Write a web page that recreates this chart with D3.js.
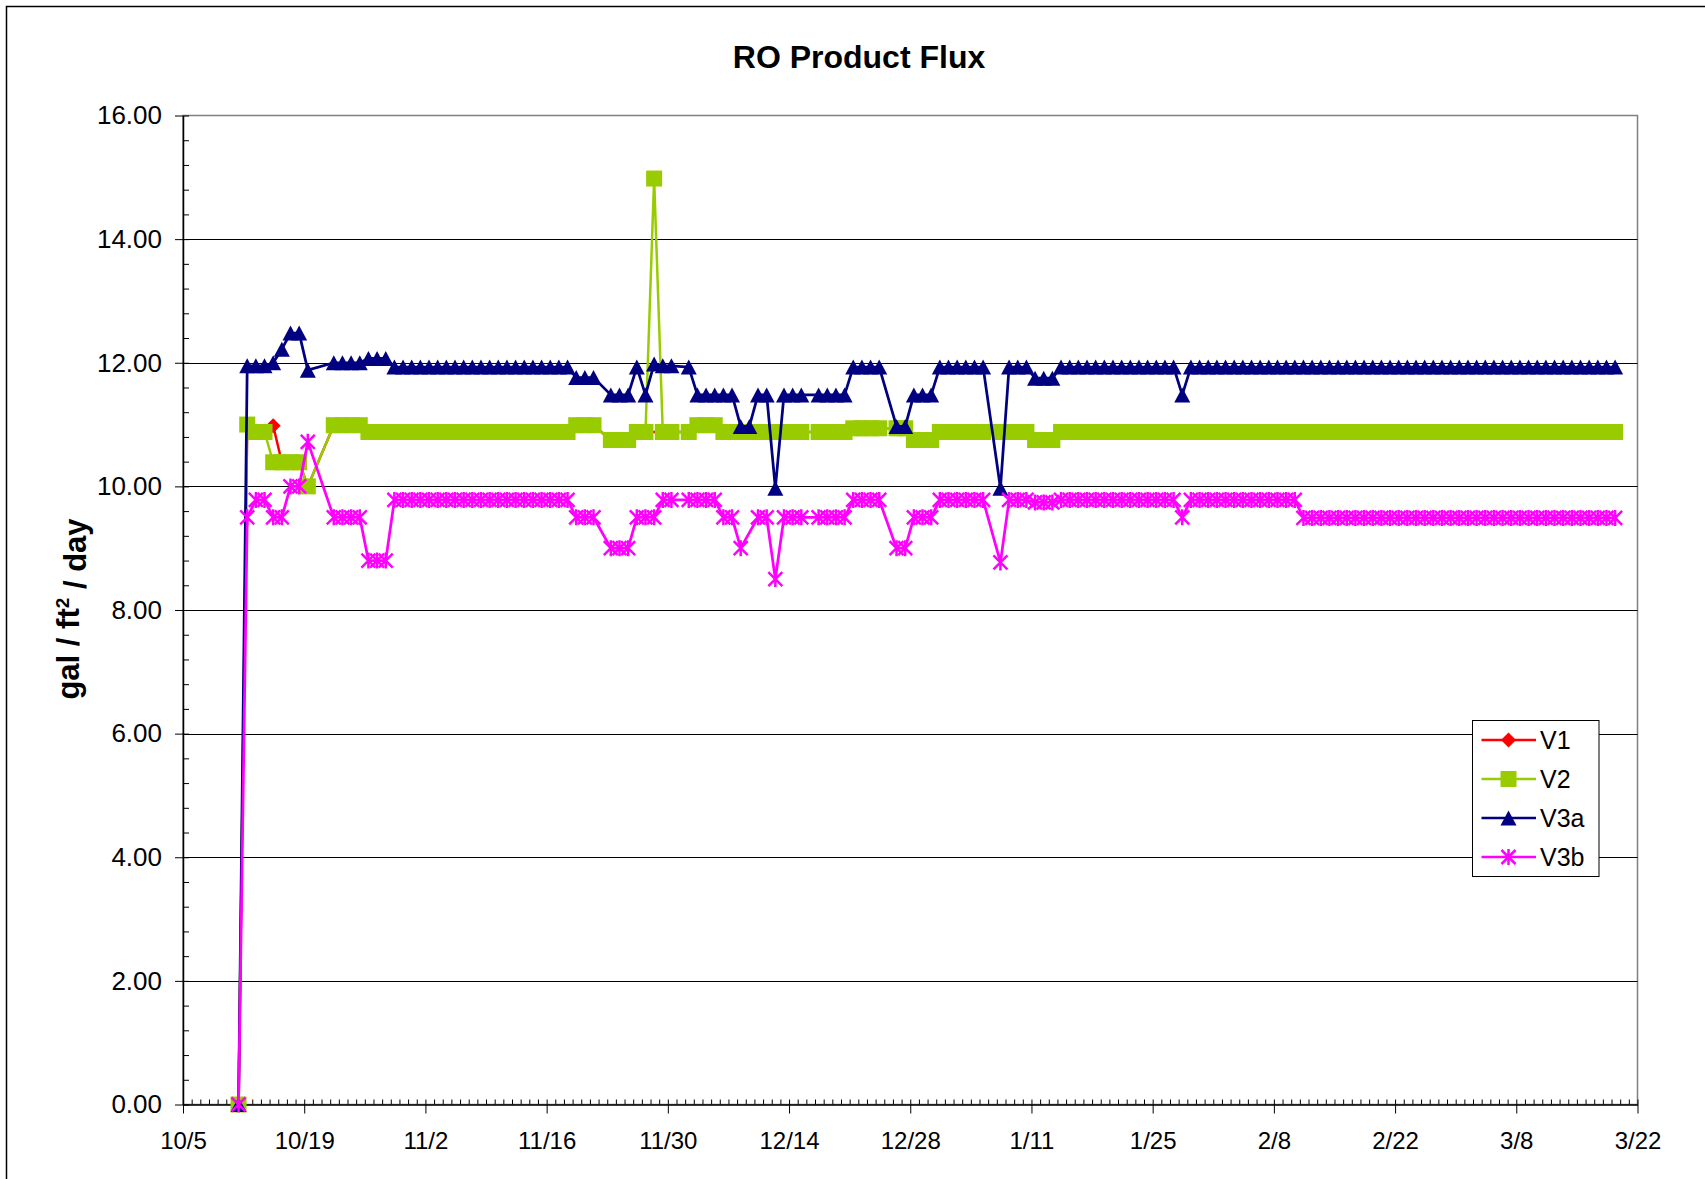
<!DOCTYPE html>
<html><head><meta charset="utf-8">
<script src="https://cdn.jsdelivr.net/npm/d3@7"></script>
<style>
body{margin:0;background:#fff}
svg{display:block}
text{font-family:"Liberation Sans",Arial,Helvetica,sans-serif;fill:#000}
</style>
</head><body>
<svg id="chart" width="1705" height="1179"></svg>
<script>
// ---------------- DATA ----------------
const chartTitle = "RO Product Flux";
const seriesNames = ["V1", "V2", "V3a", "V3b"];
const xTickLabels = ["10/5","10/19","11/2","11/16","11/30","12/14","12/28","1/11","1/25","2/8","2/22","3/8","3/22"];
const yTickValues = [0, 2, 4, 6, 8, 10, 12, 14, 16];
const readingHour = 10;

const dates = [
 "10/11","10/12","10/13","10/14","10/15","10/16","10/17","10/18","10/19","10/22",
 "10/23","10/24","10/25","10/26","10/27","10/28","10/29","10/30","10/31",
 "11/1","11/2","11/3","11/4","11/5","11/6","11/7","11/8","11/9","11/10",
 "11/11","11/12","11/13","11/14","11/15","11/16","11/17","11/18","11/19","11/20",
 "11/21","11/23","11/24","11/25","11/26","11/27","11/28","11/29","11/30",
 "12/2","12/3","12/4","12/5","12/6","12/7","12/8","12/9","12/10","12/11",
 "12/12","12/13","12/14","12/15","12/17","12/18","12/19","12/20","12/21","12/22",
 "12/23","12/24","12/26","12/27","12/28","12/29","12/30","12/31",
 "1/1","1/2","1/3","1/4","1/5","1/7","1/8","1/9","1/10","1/11",
 "1/12","1/13","1/14","1/15","1/16","1/17","1/18","1/19","1/20","1/21",
 "1/22","1/23","1/24","1/25","1/26","1/27","1/28","1/29","1/30","1/31",
 "2/1","2/2","2/3","2/4","2/5","2/6","2/7","2/8","2/9","2/10",
 "2/11","2/12","2/13","2/14","2/15","2/16","2/17","2/18","2/19","2/20",
 "2/21","2/22","2/23","2/24","2/25","2/26","2/27","2/28",
 "3/1","3/2","3/3","3/4","3/5","3/6","3/7","3/8","3/9","3/10",
 "3/11","3/12","3/13","3/14","3/15","3/16","3/17","3/18","3/19"
];

const v1 = [
 0,11.0,10.88,10.88,10.98,10.39,10.39,10.39,10.0,10.99,
 10.99,10.99,10.99,10.88,10.88,10.88,10.88,10.88,10.88,
 10.88,10.88,10.88,10.88,10.88,10.88,10.88,10.88,10.88,10.88,
 10.88,10.88,10.88,10.88,10.88,10.88,10.88,10.88,10.99,10.99,
 10.99,10.75,10.75,10.75,10.88,10.88,null,10.88,10.88,
 10.88,10.99,10.99,10.99,10.88,10.88,10.88,10.88,10.88,10.88,
 10.88,10.88,10.88,10.88,10.88,10.88,10.88,10.88,10.94,10.94,
 10.94,10.94,10.94,10.94,10.75,10.75,10.75,10.88,
 10.88,10.88,10.88,10.88,10.88,10.88,10.88,10.88,10.88,10.75,
 10.75,10.75,10.88,10.88,10.88,10.88,10.88,10.88,10.88,10.88,
 10.88,10.88,10.88,10.88,10.88,10.88,10.88,10.88,10.88,10.88,
 10.88,10.88,10.88,10.88,10.88,10.88,10.88,10.88,10.88,10.88,
 10.88,10.88,10.88,10.88,10.88,10.88,10.88,10.88,10.88,10.88,
 10.88,10.88,10.88,10.88,10.88,10.88,10.88,10.88,
 10.88,10.88,10.88,10.88,10.88,10.88,10.88,10.88,10.88,10.88,
 10.88,10.88,10.88,10.88,10.88,10.88,10.88,10.88,10.88
];

const v2 = [
 0,11.0,10.88,10.88,10.39,10.39,10.39,10.39,10.0,10.99,
 10.99,10.99,10.99,10.88,10.88,10.88,10.88,10.88,10.88,
 10.88,10.88,10.88,10.88,10.88,10.88,10.88,10.88,10.88,10.88,
 10.88,10.88,10.88,10.88,10.88,10.88,10.88,10.88,10.99,10.99,
 10.99,10.75,10.75,10.75,10.88,10.88,14.98,10.88,10.88,
 10.88,10.99,10.99,10.99,10.88,10.88,10.88,10.88,10.88,10.88,
 10.88,10.88,10.88,10.88,10.88,10.88,10.88,10.88,10.94,10.94,
 10.94,10.94,10.94,10.94,10.75,10.75,10.75,10.88,
 10.88,10.88,10.88,10.88,10.88,10.88,10.88,10.88,10.88,10.75,
 10.75,10.75,10.88,10.88,10.88,10.88,10.88,10.88,10.88,10.88,
 10.88,10.88,10.88,10.88,10.88,10.88,10.88,10.88,10.88,10.88,
 10.88,10.88,10.88,10.88,10.88,10.88,10.88,10.88,10.88,10.88,
 10.88,10.88,10.88,10.88,10.88,10.88,10.88,10.88,10.88,10.88,
 10.88,10.88,10.88,10.88,10.88,10.88,10.88,10.88,
 10.88,10.88,10.88,10.88,10.88,10.88,10.88,10.88,10.88,10.88,
 10.88,10.88,10.88,10.88,10.88,10.88,10.88,10.88,10.88
];

const v3a = [
 0,11.95,11.95,11.95,12.0,12.22,12.48,12.48,11.88,12.0,
 12.0,12.0,12.0,12.07,12.07,12.07,11.93,11.93,11.93,
 11.93,11.93,11.93,11.93,11.93,11.93,11.93,11.93,11.93,11.93,
 11.93,11.93,11.93,11.93,11.93,11.93,11.93,11.93,11.76,11.76,
 11.76,11.48,11.48,11.48,11.93,11.48,11.98,11.95,11.95,
 11.93,11.48,11.48,11.48,11.48,11.48,10.97,10.97,11.48,11.48,
 9.97,11.48,11.48,11.48,11.48,11.48,11.48,11.48,11.93,11.93,
 11.93,11.93,10.97,10.97,11.48,11.48,11.48,11.93,
 11.93,11.93,11.93,11.93,11.93,9.97,11.93,11.93,11.93,11.75,
 11.75,11.75,11.93,11.93,11.93,11.93,11.93,11.93,11.93,11.93,
 11.93,11.93,11.93,11.93,11.93,11.93,11.48,11.93,11.93,11.93,
 11.93,11.93,11.93,11.93,11.93,11.93,11.93,11.93,11.93,11.93,
 11.93,11.93,11.93,11.93,11.93,11.93,11.93,11.93,11.93,11.93,
 11.93,11.93,11.93,11.93,11.93,11.93,11.93,11.93,
 11.93,11.93,11.93,11.93,11.93,11.93,11.93,11.93,11.93,11.93,
 11.93,11.93,11.93,11.93,11.93,11.93,11.93,11.93,11.93
];

const v3b = [
 0,9.5,9.78,9.78,9.5,9.5,10.0,10.0,10.72,9.5,
 9.5,9.5,9.5,8.8,8.8,8.8,9.78,9.78,9.78,
 9.78,9.78,9.78,9.78,9.78,9.78,9.78,9.78,9.78,9.78,
 9.78,9.78,9.78,9.78,9.78,9.78,9.78,9.78,9.5,9.5,
 9.5,9.0,9.0,9.0,9.5,9.5,9.5,9.78,9.78,
 9.78,9.78,9.78,9.78,9.5,9.5,9.0,null,9.5,9.5,
 8.5,9.5,9.5,9.5,9.5,9.5,9.5,9.5,9.78,9.78,
 9.78,9.78,9.0,9.0,9.5,9.5,9.5,9.78,
 9.78,9.78,9.78,9.78,9.78,8.77,9.78,9.78,9.78,9.74,
 9.74,9.74,9.78,9.78,9.78,9.78,9.78,9.78,9.78,9.78,
 9.78,9.78,9.78,9.78,9.78,9.78,9.5,9.78,9.78,9.78,
 9.78,9.78,9.78,9.78,9.78,9.78,9.78,9.78,9.78,9.78,
 9.49,9.49,9.49,9.49,9.49,9.49,9.49,9.49,9.49,9.49,
 9.49,9.49,9.49,9.49,9.49,9.49,9.49,9.49,
 9.49,9.49,9.49,9.49,9.49,9.49,9.49,9.49,9.49,9.49,
 9.49,9.49,9.49,9.49,9.49,9.49,9.49,9.49,9.49
];

// ---------------- CHART ----------------
const seriesValues = [v1, v2, v3a, v3b];
const colors = ["#FF0000", "#99CC00", "#000080", "#FF00FF"];
const markerPaths = [
  "M0,-7.5L7.5,0L0,7.5L-7.5,0Z",
  "M-8,-8H8V8H-8Z",
  "M0,-7.5L8,7.5L-8,7.5Z",
  "M0,-8V8M-7,-7L7,7M-7,7L7,-7"
];
const markerFilled = [true, true, true, false];
const lineWidths = [2.5, 2.5, 2.75, 2.75];

const parseMD = (s, hour) => {
  const [m, d] = s.split("/").map(Number);
  return new Date(m >= 10 ? 2006 : 2007, m - 1, d, hour || 0);
};

const P = {left: 183, right: 1637.5, top: 115.5, bottom: 1104.5};
const svg = d3.select("#chart");

// chart area border
svg.append("rect").attr("x", 6.5).attr("y", 6.5).attr("width", 1760).attr("height", 1260)
  .attr("fill", "#fff").attr("stroke", "#000").attr("stroke-width", 1.5);

const xStart = parseMD(xTickLabels[0]);
const xEnd = parseMD(xTickLabels[xTickLabels.length - 1]);
const x = d3.scaleTime().domain([xStart, xEnd]).range([P.left, P.right]);
const y = d3.scaleLinear().domain([0, 16]).range([P.bottom, P.top]);

// plot area border
svg.append("rect").attr("x", P.left).attr("y", P.top)
  .attr("width", P.right - P.left).attr("height", P.bottom - P.top)
  .attr("fill", "none").attr("stroke", "#808080").attr("stroke-width", 1.5);

// gridlines
svg.append("g").selectAll("line").data(yTickValues.filter(v => v > 0 && v < 16)).join("line")
  .attr("x1", P.left).attr("x2", P.right)
  .attr("y1", d => Math.round(y(d)) + 0.5).attr("y2", d => Math.round(y(d)) + 0.5)
  .attr("stroke", "#000").attr("stroke-width", 1);

// y axis
const yAxis = svg.append("g").attr("transform", `translate(${P.left},0)`)
  .call(d3.axisLeft(y).tickValues(yTickValues).tickFormat(d3.format(".2f"))
    .tickSize(8).tickPadding(13).tickSizeOuter(0));
yAxis.selectAll("text").style("font-size", "26px");
yAxis.select(".domain").attr("stroke", "#000").attr("stroke-width", 1.5);
svg.append("g").attr("transform", `translate(${P.left},0)`)
  .call(d3.axisLeft(y).tickValues(d3.range(0, 16.001, 0.4)).tickFormat("").tickSize(-6).tickSizeOuter(0))
  .call(g => g.select(".domain").remove());

// x axis
const xTickDates = xTickLabels.map(s => parseMD(s));
const xAxis = svg.append("g").attr("transform", `translate(0,${P.bottom})`)
  .call(d3.axisBottom(x).tickValues(xTickDates).tickFormat((d, i) => xTickLabels[i])
    .tickSize(9).tickPadding(18).tickSizeOuter(0));
xAxis.selectAll("text").style("font-size", "24px");
xAxis.select(".domain").attr("stroke", "#000").attr("stroke-width", 1.5);
svg.append("g").attr("transform", `translate(0,${P.bottom})`)
  .call(d3.axisBottom(x).tickValues(d3.timeDay.range(xStart, d3.timeDay.offset(xEnd, 1))).tickFormat("").tickSize(-5).tickSizeOuter(0))
  .call(g => g.select(".domain").remove());

// series
const line = d3.line().x(d => x(d.date)).y(d => y(d.v));
seriesValues.forEach((vals, si) => {
  const pts = dates.map((s, i) => ({date: parseMD(s, readingHour), v: vals[i]})).filter(d => d.v != null);
  const g = svg.append("g");
  g.append("path").datum(pts).attr("d", line)
    .attr("fill", "none").attr("stroke", colors[si]).attr("stroke-width", lineWidths[si])
    .attr("stroke-linejoin", "round");
  g.selectAll("path.m").data(pts).join("path").attr("class", "m")
    .attr("transform", d => `translate(${x(d.date)},${y(d.v)})`)
    .attr("d", markerPaths[si])
    .attr("fill", markerFilled[si] ? colors[si] : "none")
    .attr("stroke", markerFilled[si] ? "none" : colors[si])
    .attr("stroke-width", 2.5);
});

// title
svg.append("text").attr("x", 859).attr("y", 68).attr("text-anchor", "middle")
  .style("font-size", "32px").style("font-weight", "bold").text(chartTitle);

// y axis title
const yt = svg.append("text").attr("transform", "translate(79,609) rotate(-90)")
  .attr("text-anchor", "middle").style("font-size", "31px").style("font-weight", "bold");
yt.append("tspan").text("gal / ft");
yt.append("tspan").attr("dy", "-0.55em").style("font-size", "19px").text("2");
yt.append("tspan").attr("dy", "0.55em").text(" / day");

// legend
const L = {x: 1472.5, y: 720.5, w: 126.5, h: 156};
const lg = svg.append("g");
lg.append("rect").attr("x", L.x).attr("y", L.y).attr("width", L.w).attr("height", L.h)
  .attr("fill", "#fff").attr("stroke", "#000").attr("stroke-width", 1);
const legendY = d3.scalePoint().domain(seriesNames).range([740, 857]);
seriesNames.forEach((name, si) => {
  const yy = legendY(name);
  lg.append("line").attr("x1", 1481.5).attr("x2", 1536).attr("y1", yy).attr("y2", yy)
    .attr("stroke", colors[si]).attr("stroke-width", 2.5);
  lg.append("path").attr("transform", `translate(1508.5,${yy})`).attr("d", markerPaths[si])
    .attr("fill", markerFilled[si] ? colors[si] : "none")
    .attr("stroke", markerFilled[si] ? "none" : colors[si]).attr("stroke-width", 2.5);
  lg.append("text").attr("x", 1540).attr("y", yy).attr("dy", "0.36em")
    .style("font-size", "25px").text(name);
});
</script>
</body></html>
